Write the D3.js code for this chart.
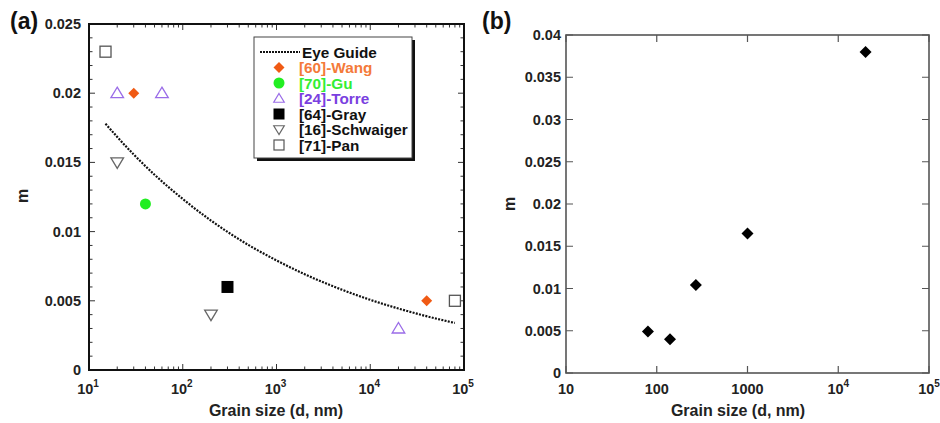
<!DOCTYPE html>
<html lang="en">
<head>
  <meta charset="UTF-8">
  <title>m vs grain size</title>
  <style>
    body { margin: 0; background: #fff; }
    text { font-family: "Liberation Sans", Arial, sans-serif; font-weight: bold; }
  </style>
</head>
<body>
  <script src="https://d3js.org/d3.v7.min.js"></script>
  <script>
    // panel (a) data
    const wangD = [30, 40000], wangM = [0.02, 0.005];
    const guD = [40], guM = [0.012];
    const torreD = [20, 60, 20000], torreM = [0.02, 0.02, 0.003];
    const grayD = [300], grayM = [0.006];
    const schwD = [20, 200], schwM = [0.015, 0.004];
    const panD = [15, 80000], panM = [0.023, 0.005];
    // eye guide
    const guideD = [15, 20, 30, 50, 100, 200, 500, 1000, 2000, 5000, 10000, 20000, 50000, 80000];
    const guideM = [0.0178, 0.01684, 0.01557, 0.01411, 0.01236, 0.0108, 0.00904, 0.00792, 0.00692, 0.0058, 0.00507, 0.00444, 0.00372, 0.0034];
    const aYTicks = [0, 0.005, 0.01, 0.015, 0.02, 0.025];
    const aXTicks = [10, 100, 1000, 10000, 100000];

    // panel (b) data
    const bD = [80, 140, 270, 1000, 20000];
    const bM = [0.0049, 0.004, 0.0104, 0.0165, 0.038];
    const bYTicks = [0, 0.005, 0.01, 0.015, 0.02, 0.025, 0.03, 0.035, 0.04];
    const bXLabels = ['10', '100', '1000', '10^4', '10^5'];

    const svg = d3.select('body').append('svg')
      .attr('width', 940).attr('height', 423);

    const pairs = (d, m) => d.map((v, i) => ({ d: v, m: m[i] }));
    const tickFont = 14.5, titleFont = 16;

    // 10^n style label with a superscript
    function powLabel(sel, txt) {
      const parts = txt.split('^');
      sel.text(parts[0]);
      if (parts[1]) {
        sel.append('tspan').attr('dy', -7).attr('font-size', 10).text(parts[1]);
      }
    }
    // square turned 45 degrees
    const diamond = r => `M0,${-r}L${r},0L0,${r}L${-r},0Z`;

    // ---------- panel (a) ----------
    const ax = d3.scaleLog().domain([10, 100000]).range([89, 464]);
    const ay = d3.scaleLinear().domain([0, 0.025]).range([370, 24]);
    const ga = svg.append('g');

    const aMinorX = [];
    [10, 100, 1000, 10000].forEach(b => { for (let k = 2; k <= 9; k++) aMinorX.push(b * k); });
    const aMinorY = d3.range(1, 25).map(i => i * 0.001).filter(v => Math.abs(v / 0.005 - Math.round(v / 0.005)) > 1e-6);

    ga.selectAll('.mx').data(aMinorX).enter().append('path')
      .attr('d', d => `M${ax(d)},370v-3.5M${ax(d)},24v3.5`)
      .attr('stroke', '#333').attr('stroke-width', 1);
    ga.selectAll('.mjx').data(aXTicks).enter().append('path')
      .attr('d', d => `M${ax(d)},370v-6M${ax(d)},24v6`)
      .attr('stroke', '#333').attr('stroke-width', 1);
    ga.selectAll('.my').data(aMinorY).enter().append('path')
      .attr('d', d => `M89,${ay(d)}h3.5M464,${ay(d)}h-3.5`)
      .attr('stroke', '#333').attr('stroke-width', 1);
    ga.selectAll('.mjy').data(aYTicks).enter().append('path')
      .attr('d', d => `M89,${ay(d)}h6M464,${ay(d)}h-6`)
      .attr('stroke', '#333').attr('stroke-width', 1);

    ga.append('rect').attr('x', 89).attr('y', 24).attr('width', 375).attr('height', 346)
      .attr('fill', 'none').attr('stroke', '#111').attr('stroke-width', 2);

    ga.selectAll('.yl').data(aYTicks).enter().append('text')
      .attr('x', 81).attr('y', d => ay(d) + 5).attr('text-anchor', 'end')
      .attr('font-size', tickFont).attr('fill', '#222').text(d => d === 0 ? '0' : d3.format('~g')(d));
    ga.selectAll('.xl').data(aXTicks).enter().append('text')
      .attr('x', d => ax(d) - 1).attr('y', 394).attr('text-anchor', 'middle')
      .attr('font-size', tickFont).attr('fill', '#222')
      .each(function (d) { powLabel(d3.select(this), '10^' + Math.round(Math.log10(d))); });

    ga.append('text').attr('x', 276).attr('y', 416).attr('text-anchor', 'middle')
      .attr('font-size', titleFont).attr('fill', '#222').text('Grain size (d, nm)');
    ga.append('text').attr('transform', 'translate(28,196) rotate(-90)').attr('text-anchor', 'middle')
      .attr('font-size', titleFont).attr('fill', '#222').text('m');
    svg.append('text').attr('x', 10).attr('y', 29).attr('font-size', 23).attr('fill', '#111').text('(a)');

    // eye guide
    const line = d3.line().x(p => ax(p.d)).y(p => ay(p.m)).curve(d3.curveMonotoneX);
    ga.append('path').datum(pairs(guideD, guideM)).attr('d', line)
      .attr('fill', 'none').attr('stroke', '#111').attr('stroke-width', 2.2).attr('stroke-dasharray', '2,1.3');

    const triUp = s => `M0,${-s}L${s * 1.05},${s * 0.75}L${-s * 1.05},${s * 0.75}Z`;
    const styles = {
      wang: g => g.append('path').attr('d', diamond(5.5)).attr('fill', '#f05a14'),
      gu: g => g.append('circle').attr('r', 5.5).attr('fill', '#22ee22'),
      torre: g => g.append('path').attr('d', triUp(6)).attr('fill', 'none').attr('stroke', '#9a6ce8').attr('stroke-width', 1.3),
      gray: g => g.append('rect').attr('x', -6).attr('y', -6).attr('width', 12).attr('height', 12).attr('fill', '#000'),
      schw: g => g.append('path').attr('d', triUp(6)).attr('transform', 'rotate(180)').attr('fill', 'none').attr('stroke', '#666').attr('stroke-width', 1.3),
      pan: g => g.append('rect').attr('x', -5.5).attr('y', -5.5).attr('width', 11).attr('height', 11).attr('fill', '#fff').attr('stroke', '#555').attr('stroke-width', 1.3)
    };
    function drawSeries(data, draw) {
      data.forEach(p => draw(ga.append('g').attr('transform', `translate(${ax(p.d)},${ay(p.m)})`)));
    }
    drawSeries(pairs(wangD, wangM), styles.wang);
    drawSeries(pairs(guD, guM), styles.gu);
    drawSeries(pairs(torreD, torreM), styles.torre);
    drawSeries(pairs(grayD, grayM), styles.gray);
    drawSeries(pairs(schwD, schwM), styles.schw);
    drawSeries(pairs(panD, panM), styles.pan);

    // legend
    const leg = ga.append('g');
    leg.append('rect').attr('x', 257).attr('y', 40).attr('width', 158).attr('height', 121).attr('fill', '#111');
    leg.append('rect').attr('x', 254).attr('y', 37).attr('width', 158).attr('height', 121)
      .attr('fill', '#fff').attr('stroke', '#444').attr('stroke-width', 1);
    const legItems = [
      { label: 'Eye Guide', color: '#111', style: null },
      { label: '[60]-Wang', color: '#f47a3a', style: styles.wang },
      { label: '[70]-Gu', color: '#33ee33', style: styles.gu },
      { label: '[24]-Torre', color: '#7a3fe0', style: g => g.append('path').attr('d', triUp(5)).attr('fill', 'none').attr('stroke', '#9a6ce8').attr('stroke-width', 1.2) },
      { label: '[64]-Gray', color: '#111', style: g => g.append('rect').attr('x', -5.5).attr('y', -5.5).attr('width', 11).attr('height', 11).attr('fill', '#000') },
      { label: '[16]-Schwaiger', color: '#111', style: g => g.append('path').attr('d', triUp(5)).attr('transform', 'rotate(180)').attr('fill', 'none').attr('stroke', '#666').attr('stroke-width', 1.2) },
      { label: '[71]-Pan', color: '#111', style: g => g.append('rect').attr('x', -5).attr('y', -5).attr('width', 10).attr('height', 10).attr('fill', '#fff').attr('stroke', '#555').attr('stroke-width', 1.2) }
    ];
    legItems.forEach((it, i) => {
      const y = 52 + i * 15.5;
      if (it.style) {
        it.style(leg.append('g').attr('transform', `translate(279,${y})`));
      } else {
        leg.append('path').attr('d', `M260,${y}h40`).attr('stroke', '#111').attr('stroke-width', 2).attr('stroke-dasharray', '2,1');
      }
      leg.append('text').attr('x', i === 0 ? 302 : 299).attr('y', y + 5.5).attr('font-size', 15.3)
        .attr('fill', it.color).text(it.label);
    });

    // ---------- panel (b) ----------
    const bx = d3.scaleLog().domain([10, 100000]).range([566, 929]);
    const by = d3.scaleLinear().domain([0, 0.04]).range([373, 35]);
    const gb = svg.append('g');
    const bXTicks = bx.ticks().filter(v => Math.abs(Math.log10(v) - Math.round(Math.log10(v))) < 1e-9);

    gb.selectAll('.bxt').data(bXTicks).enter().append('path')
      .attr('d', d => `M${bx(d)},373v-7M${bx(d)},35v7`)
      .attr('stroke', '#555').attr('stroke-width', 1.2);
    gb.selectAll('.byt').data(bYTicks).enter().append('path')
      .attr('d', d => `M566,${by(d)}h7M929,${by(d)}h-7`)
      .attr('stroke', '#555').attr('stroke-width', 1.2);
    gb.append('rect').attr('x', 566).attr('y', 35).attr('width', 363).attr('height', 338)
      .attr('fill', 'none').attr('stroke', '#555').attr('stroke-width', 1.6);

    gb.selectAll('.byl').data(bYTicks).enter().append('text')
      .attr('x', 561).attr('y', d => by(d) + 5).attr('text-anchor', 'end')
      .attr('font-size', tickFont).attr('fill', '#222').text(d => d === 0 ? '0' : d3.format('~g')(d));
    gb.selectAll('.bxl').data(bXTicks).enter().append('text')
      .attr('x', d => bx(d)).attr('y', 394).attr('text-anchor', 'middle')
      .attr('font-size', tickFont).attr('fill', '#222')
      .each(function (d, i) { powLabel(d3.select(this), bXLabels[i]); });
    gb.append('text').attr('x', 738).attr('y', 416).attr('text-anchor', 'middle')
      .attr('font-size', titleFont).attr('fill', '#222').text('Grain size (d, nm)');
    gb.append('text').attr('transform', 'translate(515,204) rotate(-90)').attr('text-anchor', 'middle')
      .attr('font-size', titleFont).attr('fill', '#222').text('m');
    svg.append('text').attr('x', 482).attr('y', 29).attr('font-size', 23).attr('fill', '#111').text('(b)');

    gb.selectAll('.pt').data(pairs(bD, bM)).enter().append('path')
      .attr('transform', p => `translate(${bx(p.d)},${by(p.m)})`)
      .attr('d', diamond(6)).attr('fill', '#000');
  </script>
</body>
</html>
